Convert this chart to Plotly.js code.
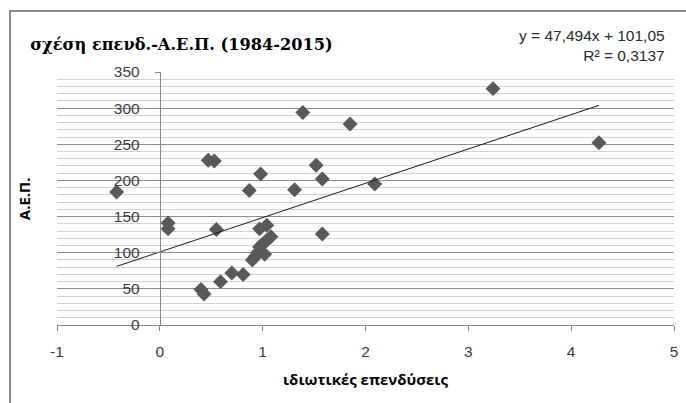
<!DOCTYPE html>
<html>
<head>
<meta charset="utf-8">
<script src="https://cdn.plot.ly/plotly-3.0.1.min.js"></script>
<style>
  html, body { margin: 0; padding: 0; background: #fff; }
  #wrap { position: relative; width: 686px; height: 403px; overflow: hidden; }
  #chart { width: 686px; height: 403px; }
  #frame { position: absolute; left: 9px; top: 10px; width: 700px; height: 420px;
           border: 2px solid #8a8a8a; pointer-events: none; box-sizing: border-box; }
</style>
</head>
<body>
<div id="wrap">
  <div id="chart"></div>
  <div id="frame"></div>
</div>
<script>
// private investment (x) vs. GDP (y), yearly observations 1984-2015
const investment = [-0.42, 0.08, 0.08, 0.40, 0.43, 0.47, 0.53, 0.55, 0.59, 0.70,
                    0.81, 0.87, 0.90, 0.93, 0.95, 0.97, 0.98, 0.97, 1.00, 1.02,
                    1.04, 1.04, 1.08, 1.31, 1.39, 1.52, 1.58, 1.58, 1.85, 2.09,
                    3.24, 4.27];
const gdp        = [184, 141, 133, 49, 43, 228, 227, 132, 60, 72,
                    70, 186, 90, 95, 100, 108, 209, 133, 112, 98,
                    138, 117, 122, 187, 294, 221, 202, 126, 278, 195,
                    327, 252];

// linear trendline as reported in the label
const slope = 47.494;
const intercept = 101.05;
const rSquared = 0.3137;

const xTicks = [-1, 0, 1, 2, 3, 4, 5];
const yTicks = [0, 50, 100, 150, 200, 250, 300, 350];

const xMin = Math.min(...investment);
const xMax = Math.max(...investment);
const trendX = [xMin, xMax];
const trendY = trendX.map(v => slope * v + intercept);

const fmt = (v, d) => v.toFixed(d).replace('.', ',');
const eqText = 'y = ' + fmt(slope, 3) + 'x + ' + fmt(intercept, 2) +
               '<br>R² = ' + fmt(rSquared, 4);

const xRange = [xTicks[0], xTicks[xTicks.length - 1]];
const yRange = [yTicks[0], yTicks[yTicks.length - 1]];

const tickFont = { family: 'Liberation Sans, Arial, sans-serif', size: 15.5, color: '#3c3c3c' };
const boldFont = { family: 'Open Sans, Noto Sans, sans-serif', size: 15, color: '#000', weight: 'bold' };

const traces = [
  {
    x: investment, y: gdp, type: 'scatter', mode: 'markers',
    marker: { symbol: 'diamond', size: 11.5, color: '#595959' },
    hoverinfo: 'x+y', showlegend: false
  },
  {
    x: trendX, y: trendY, type: 'scatter', mode: 'lines',
    line: { color: '#1a1a1a', width: 1 },
    hoverinfo: 'skip', showlegend: false
  }
];

const layout = {
  width: 686, height: 403,
  margin: { l: 57, r: 12, t: 72, b: 78 },
  paper_bgcolor: '#fff', plot_bgcolor: '#fff',
  showlegend: false,
  title: {
    text: '<b>σχέση επενδ.-Α.Ε.Π. (1984-2015)</b>',
    font: { family: 'DejaVu Serif, serif', size: 16.2, color: '#000' },
    xref: 'container', x: 0.044, xanchor: 'left',
    yref: 'container', y: 0.889, yanchor: 'middle'
  },
  xaxis: {
    range: xRange, tickvals: xTicks, ticktext: xTicks.map(String),
    showgrid: false, zeroline: false,
    showline: true, linecolor: '#868686', linewidth: 1,
    ticks: 'outside', ticklen: 5, tickcolor: '#868686',
    tickfont: tickFont, ticklabelstandoff: 7,
    fixedrange: true
  },
  yaxis: {
    range: yRange, tickvals: yTicks, ticktext: yTicks.map(String),
    anchor: 'free', position: (0 - xRange[0]) / (xRange[1] - xRange[0]),
    showgrid: true, gridcolor: '#8c8c8c', gridwidth: 1,
    minor: { dtick: 10, showgrid: true, gridcolor: '#d2d2d2', gridwidth: 1 },
    zeroline: false,
    showline: true, linecolor: '#868686', linewidth: 1,
    ticks: 'outside', ticklen: 5, tickcolor: '#868686',
    tickfont: tickFont, ticklabelstandoff: 12,
    fixedrange: true
  },
  annotations: [
    {
      text: eqText, xref: 'paper', yref: 'paper',
      x: 0.989, y: 1.106, xanchor: 'right', yanchor: 'middle', align: 'right',
      showarrow: false,
      font: { family: 'Liberation Sans, Arial, sans-serif', size: 15.5, color: '#2a2a2a' }
    },
    {
      text: '<b>ιδιωτικές επενδύσεις</b>', xref: 'paper', yref: 'paper',
      x: 0.5, y: -0.215, xanchor: 'center', yanchor: 'middle',
      showarrow: false, font: boldFont
    },
    {
      text: '<b>Α.Ε.Π.</b>', xref: 'paper', yref: 'paper',
      x: -0.054, y: 0.5, xanchor: 'center', yanchor: 'middle', textangle: -90,
      showarrow: false, font: boldFont
    }
  ]
};

Plotly.newPlot('chart', traces, layout, { displayModeBar: false, staticPlot: true });
</script>
</body>
</html>
